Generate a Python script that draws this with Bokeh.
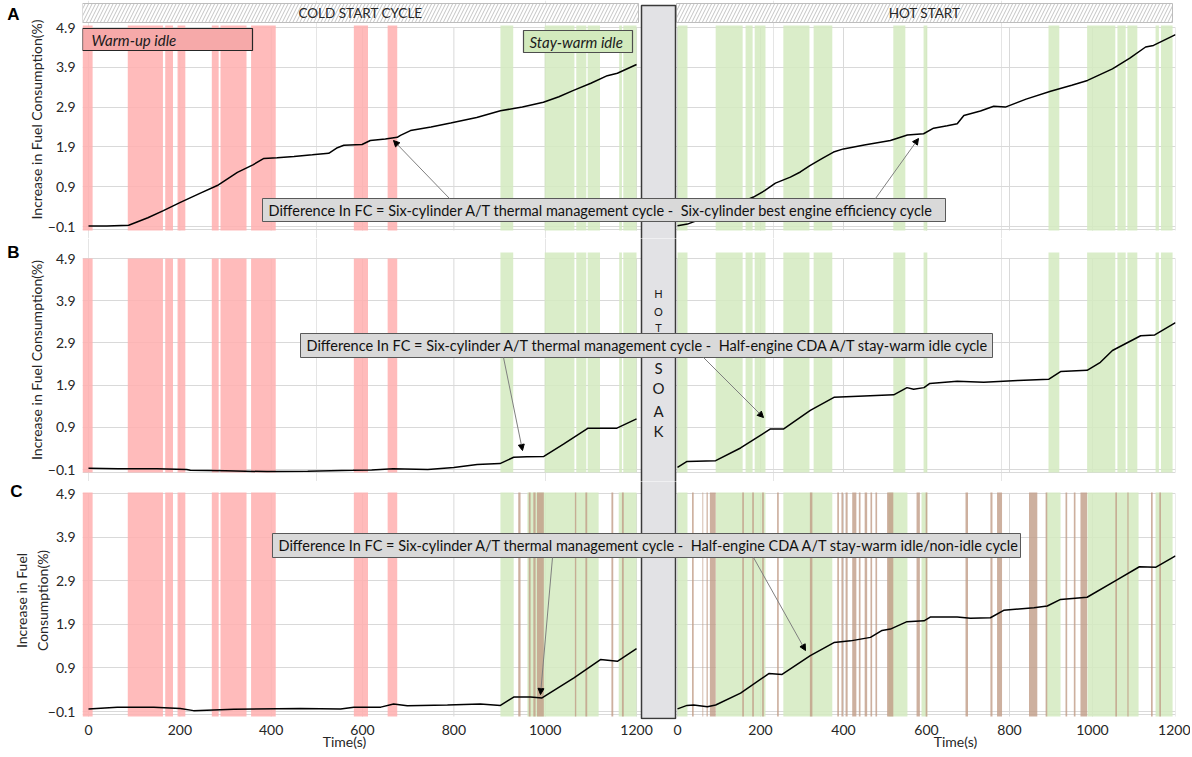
from bokeh.plotting import figure
from bokeh.models import (Range1d, FixedTicker, CustomJSTickFormatter, Arrow,
                          NormalHead, Span, LinearAxis)
from bokeh.layouts import column
from bokeh.embed import file_html
from bokeh.resources import INLINE
from bokeh.core.properties import value

# ---------------- data ----------------
X_TICKS = [0, 200, 400, 600, 800, 1000, 1200]
Y_TICKS = [-0.1, 0.9, 1.9, 2.9, 3.9, 4.9]

# idle periods (s)
WARMUP_IDLE = [(-13, 9), (86, 163), (168, 185), (195, 212), (270, 285),
               (289, 346), (356, 410), (581, 612), (655, 676)]
COLD_STAYWARM = [(902, 930), (999, 1064), (1068, 1090), (1093, 1120),
                 (1162, 1168), (1171, 1200)]
HOT_STAYWARM = [(0, 24), (92, 157), (164, 181), (186, 212), (255, 318),
                (328, 373), (520, 549), (593, 602), (894, 920), (987, 1055),
                (1060, 1080), (1084, 1108), (1152, 1160), (1165, 1193)]
C_COLD_IDLE = [(902, 931), (961, 1117), (1161, 1200)]
C_HOT_IDLE = [(0, 24), (92, 212), (255, 373), (508, 554), (588, 602),
              (889, 923), (988, 1111), (1152, 1193)]
C_COLD_NONIDLE = [(941, 946), (964, 968), (974, 979), (982, 997),
                  (1065, 1068), (1088, 1092), (1145, 1149), (1168, 1172)]
C_HOT_NONIDLE = [(35, 39), (60, 62), (70, 73), (78, 92), (156, 160), (180, 184),
                 (204, 208), (240, 244), (319, 325), (385, 389), (395, 399),
                 (405, 410), (421, 431), (437, 441), (451, 457), (465, 469),
                 (477, 481), (505, 520), (576, 584), (598, 602), (694, 700),
                 (754, 759), (770, 782), (847, 867), (887, 891), (935, 939),
                 (955, 959), (971, 987), (1055, 1059), (1084, 1087),
                 (1141, 1145), (1161, 1165)]

# increase in fuel consumption (%)
A_COLD_T = [0, 40, 88, 130, 164, 200, 245, 282, 326, 360, 384, 413, 450, 490, 526,
            545, 559, 599, 617, 650, 676, 683, 705, 750, 793, 850, 902, 950, 996,
            1030, 1062, 1100, 1136, 1158, 1200]
A_COLD_V = [-0.09, -0.09, -0.07, 0.12, 0.30, 0.50, 0.74, 0.93, 1.26, 1.45, 1.61,
            1.63, 1.66, 1.70, 1.74, 1.88, 1.94, 1.96, 2.06, 2.10, 2.14, 2.19, 2.31,
            2.40, 2.50, 2.64, 2.81, 2.90, 3.02, 3.16, 3.32, 3.50, 3.69, 3.75, 3.97]
A_HOT_T = [0, 24, 60, 100, 140, 183, 210, 236, 272, 296, 319, 350, 376, 400, 450,
           513, 554, 593, 617, 650, 674, 690, 730, 762, 790, 840, 899, 950, 988,
           1048, 1090, 1128, 1147, 1200]
A_HOT_V = [-0.08, -0.04, 0.10, 0.28, 0.44, 0.64, 0.80, 0.99, 1.14, 1.27, 1.43,
           1.62, 1.77, 1.85, 1.95, 2.06, 2.20, 2.23, 2.37, 2.43, 2.48, 2.69, 2.80,
           2.92, 2.90, 3.10, 3.30, 3.45, 3.57, 3.86, 4.13, 4.41, 4.45, 4.72]
B_COLD_T = [0, 65, 150, 215, 223, 300, 391, 480, 579, 620, 667, 743, 800, 851,
            901, 931, 960, 997, 1040, 1094, 1157, 1200]
B_COLD_V = [-0.07, -0.08, -0.08, -0.10, -0.12, -0.13, -0.15, -0.14, -0.12, -0.11,
            -0.08, -0.10, -0.05, 0.02, 0.04, 0.19, 0.20, 0.21, 0.50, 0.88, 0.88, 1.10]
B_HOT_T = [0, 23, 92, 152, 224, 256, 320, 377, 450, 521, 553, 569, 594, 608, 674,
           738, 820, 895, 923, 987, 1019, 1048, 1116, 1150, 1200]
B_HOT_V = [-0.05, 0.09, 0.11, 0.41, 0.86, 0.86, 1.30, 1.61, 1.64, 1.67, 1.84,
           1.80, 1.84, 1.94, 1.99, 1.97, 2.01, 2.04, 2.22, 2.25, 2.44, 2.72, 3.07,
           3.09, 3.38]
C_COLD_T = [0, 63, 143, 201, 230, 318, 464, 552, 581, 640, 668, 698, 786, 858,
            902, 931, 968, 993, 1063, 1121, 1158, 1200]
C_COLD_V = [-0.04, 0.00, 0.00, -0.03, -0.08, -0.05, -0.03, -0.04, 0.00, 0.00,
            0.07, 0.03, 0.05, 0.07, 0.04, 0.23, 0.23, 0.21, 0.67, 1.09, 1.05, 1.34]
C_HOT_T = [0, 23, 39, 72, 92, 152, 220, 252, 320, 377, 417, 465, 493, 513, 553,
           594, 610, 674, 706, 754, 786, 859, 891, 923, 987, 1059, 1113, 1153, 1200]
C_HOT_V = [-0.04, 0.04, 0.05, 0.01, 0.05, 0.32, 0.77, 0.75, 1.18, 1.48, 1.52,
           1.60, 1.76, 1.79, 1.96, 1.98, 2.07, 2.07, 2.04, 2.05, 2.22, 2.28, 2.32,
           2.47, 2.52, 2.92, 3.22, 3.21, 3.47]

CYCLE_TITLES = ["COLD START CYCLE", "HOT START"]
Y_LABEL = "Increase in Fuel Consumption(%)"
Y_LABEL_C = "Increase in Fuel\nConsumption(%)"
X_LABEL = "Time(s)"
NB = "\u00a0"
NOTE_A = "Difference In FC = Six-cylinder A/T thermal management cycle -" + NB + " Six-cylinder best engine efficiency cycle"
NOTE_B = "Difference In FC = Six-cylinder A/T thermal management cycle -" + NB + " Half-engine CDA A/T stay-warm idle cycle"
NOTE_C = "Difference In FC = Six-cylinder A/T thermal management cycle -" + NB + " Half-engine CDA A/T stay-warm idle/non-idle cycle"
SOAK_LETTERS = ["H", "O", "T", "S", "O", "A", "K"]
PANELS = ["A", "B", "C"]

# ---------------- layout ----------------
FONT = "Lato"
W = 1190
FL = 82           # frame left (canvas px == reference px)
FW = 1093         # frame width
COLD_PPS, COLD_0 = 0.4567, 88.0
HOT_PPS, HOT_0 = 0.415, 677.0

cold_start = -(COLD_0 - FL) / COLD_PPS
cold_end = cold_start + FW / COLD_PPS
hot_start = -(HOT_0 - FL) / HOT_PPS
hot_end = hot_start + FW / HOT_PPS
cold_range = Range1d(cold_start, cold_end)
hot_range = Range1d(hot_start, hot_end)


def cx(px):
    return (px - COLD_0) / COLD_PPS


def hx(px):
    return (px - HOT_0) / HOT_PPS


def cold_of_hot(t):
    return cold_start + (t - hot_start) * (cold_end - cold_start) / (hot_end - hot_start)


ROWS = {
    "A": dict(h=238, ppu=39.8, ym1=226, top=0, bot=238, bb=0),
    "B": dict(h=243, ppu=42.2, ym1=469, top=238, bot=481, bb=0),
    "C": dict(h=274, ppu=43.6, ym1=711, top=481, bot=719, bb=36),
}


def yv(r, py):
    R = ROWS[r]
    return -0.1 + (R["ym1"] - py) / R["ppu"]


GRID = "#D9D9D9"
PINK = "#FFAFAF"
GREEN = "#D3EABF"
BROWN = "#C19C87"
TXT = "#262626"


def hide_ticks(ax):
    ax.axis_line_color = None
    ax.major_tick_line_color = None
    ax.minor_tick_line_color = None
    ax.major_tick_out = 0
    ax.major_tick_in = 0
    ax.minor_tick_out = 0
    ax.minor_tick_in = 0


def make_fig(r, show_x, letter, letter_px):
    R = ROWS[r]
    yr = Range1d(yv(r, R["bot"]), yv(r, R["top"]))
    p = figure(width=W, height=R["h"], x_range=cold_range, y_range=yr,
               output_backend="svg", toolbar_location=None,
               x_axis_location="below" if show_x else None,
               min_border_left=FL, min_border_right=W - FL - FW,
               min_border_top=0, min_border_bottom=R["bb"])
    p.extra_x_ranges = {"hot": hot_range}
    p.outline_line_color = None
    p.background_fill_color = "white"
    p.border_fill_color = "white"
    p.ygrid.ticker = FixedTicker(ticks=Y_TICKS)
    p.ygrid.grid_line_color = GRID
    ya = p.yaxis[0]
    ya.ticker = FixedTicker(ticks=Y_TICKS)
    hide_ticks(ya)
    ya.major_label_standoff = 7
    ya.major_label_text_font = FONT
    ya.major_label_text_font_size = "14px"
    ya.major_label_text_color = TXT
    ya.axis_label = Y_LABEL_C if r == "C" else Y_LABEL
    ya.axis_label_text_font = FONT
    ya.axis_label_text_font_size = "14px"
    ya.axis_label_text_font_style = "normal"
    ya.axis_label_text_color = TXT
    ya.axis_label_standoff = -6 if r == "C" else 0
    # outer left axis whose single tick label is the panel letter
    la = LinearAxis(ticker=FixedTicker(ticks=[yv(r, letter_px)]),
                    formatter=CustomJSTickFormatter(args=dict(lab=letter),
                                                    code="return lab;"),
                    major_label_standoff=-12 if r == "C" else 5,
                    major_label_text_font="Liberation Sans",
                    major_label_text_font_size="17px",
                    major_label_text_font_style="bold",
                    major_label_text_color="black")
    hide_ticks(la)
    p.add_layout(la, "left")
    if show_x:
        xa = p.xaxis[0]
        hot_ticks = [cold_of_hot(t) for t in X_TICKS]
        xa.ticker = FixedTicker(ticks=X_TICKS + hot_ticks)
        xa.formatter = CustomJSTickFormatter(
            args=dict(hs=hot_start, cs=cold_start, hspan=hot_end - hot_start,
                      cspan=cold_end - cold_start),
            code="""
            if (tick <= 1250) { return tick.toFixed(0); }
            const h = hs + (tick - cs) * hspan / cspan;
            return Math.round(h).toFixed(0);
            """)
        hide_ticks(xa)
        xa.major_label_standoff = 5
        xa.major_label_text_font = FONT
        xa.major_label_text_font_size = "14px"
        xa.major_label_text_color = TXT
        # second axis carrying the two "Time(s)" titles
        ta = LinearAxis(
            ticker=FixedTicker(ticks=[cx(344), cold_of_hot(hx(955))]),
            formatter=CustomJSTickFormatter(args=dict(lab=X_LABEL), code="return lab;"),
            major_label_standoff=-5,
            major_label_text_font=FONT, major_label_text_font_size="14px",
            major_label_text_color=TXT)
        hide_ticks(ta)
        p.add_layout(ta, "below")
        p.xgrid.visible = False
    return p


def bars(p, spans, bottom, top, color, alpha=0.85, hot=False):
    kw = dict(x_range_name="hot") if hot else {}
    p.quad(left=[a for a, b in spans], right=[b for a, b in spans],
           bottom=bottom, top=top, fill_color=color, fill_alpha=alpha,
           line_color=None, **kw)


def vgrid(p, ybot):
    n = len(X_TICKS)
    p.segment(x0=X_TICKS, x1=X_TICKS, y0=[ybot] * n, y1=[4.9] * n,
              line_color=GRID, line_width=1)
    p.segment(x0=X_TICKS, x1=X_TICKS, y0=[ybot] * n, y1=[4.9] * n,
              line_color=GRID, line_width=1, x_range_name="hot")


def soak_box(p, bottom, top):
    p.quad(left=cx(641), right=cx(675), bottom=bottom, top=top,
           fill_color="#E2E2E5", line_color="#3A3A3A", line_width=1.5)


def note(p, r, text, x0px, x1px, y0px, y1px):
    p.quad(left=cx(x0px), right=cx(x1px), bottom=yv(r, y1px), top=yv(r, y0px),
           fill_color="#D9D9D9", line_color="#595959", line_width=1)
    p.text(x=[cx(x0px + 6)], y=[yv(r, (y0px + y1px) / 2)], text=[text],
           text_font=value(FONT), text_font_size="14.5px", text_color="#111111",
           text_baseline="middle", text_align="left")


def arrow(p, xs, ys, xe, ye, hot=False):
    kw = dict(x_range_name="hot") if hot else {}
    p.add_layout(Arrow(end=NormalHead(size=6, fill_color="black", line_color="black"),
                       x_start=xs, y_start=ys, x_end=xe, y_end=ye,
                       line_color="#7F7F7F", line_width=1, **kw))


LW = 1.5
# ---------- Row A ----------
pA = make_fig("A", False, PANELS[0], 14)
bA, tA = yv("A", 230), yv("A", 25)
vgrid(pA, bA)
bars(pA, WARMUP_IDLE, bA, tA, PINK)
bars(pA, COLD_STAYWARM, bA, tA, GREEN)
bars(pA, HOT_STAYWARM, bA, tA, GREEN, hot=True)
pA.line(A_COLD_T, A_COLD_V, line_color="black", line_width=LW)
pA.line(A_HOT_T, A_HOT_V, line_color="black", line_width=LW, x_range_name="hot")
hb, ht = yv("A", 22), yv("A", 3)
pA.quad(left=cold_start, right=cx(638), bottom=hb, top=ht, fill_color="white",
        hatch_pattern="/", hatch_color="#C4C4C4", hatch_scale=7, hatch_weight=1,
        line_color="#BDBDBD")
pA.quad(left=hx(676), right=hx(1172), bottom=hb, top=ht, fill_color="white",
        hatch_pattern="/", hatch_color="#C4C4C4", hatch_scale=7, hatch_weight=1,
        line_color="#BDBDBD", x_range_name="hot")
pA.text(x=[cx(360)], y=[(hb + ht) / 2], text=[CYCLE_TITLES[0]], text_font=value(FONT),
        text_font_size="13.5px", text_color=TXT, text_align="center", text_baseline="middle")
pA.text(x=[hx(924)], y=[(hb + ht) / 2], text=[CYCLE_TITLES[1]], text_font=value(FONT),
        text_font_size="13.5px", text_color=TXT, text_align="center", text_baseline="middle",
        x_range_name="hot")
soak_box(pA, yv("A", 260), yv("A", 5))
pA.quad(left=cold_start, right=cx(252), bottom=yv("A", 50), top=yv("A", 28),
        fill_color="#F6A9A9", line_color="#262626", line_width=1.2)
pA.text(x=[cx(91)], y=[yv("A", 39.5)], text=["Warm-up idle"], text_font=value(FONT),
        text_font_size="15px", text_font_style="italic", text_color="#1a1a1a",
        text_baseline="middle")
pA.quad(left=cx(523), right=cx(632), bottom=yv("A", 52), top=yv("A", 30),
        fill_color="#D2EABD", line_color="#4D4D4D", line_width=1.2)
pA.text(x=[cx(529)], y=[yv("A", 41.5)], text=["Stay-warm idle"], text_font=value(FONT),
        text_font_size="15px", text_font_style="italic", text_color="#1a1a1a",
        text_baseline="middle")
note(pA, "A", NOTE_A, 262, 945, 198, 221)
arrow(pA, cx(449), yv("A", 198), cx(393), yv("A", 140))
arrow(pA, hx(875), yv("A", 198), hx(918), yv("A", 138), hot=True)

# ---------- Row B ----------
pB = make_fig("B", False, PANELS[1], 252)
bB = yv("B", 472)
vgrid(pB, bB)
bars(pB, WARMUP_IDLE, bB, 4.9, PINK)
bars(pB, COLD_STAYWARM, bB, yv("B", 252), GREEN)
bars(pB, HOT_STAYWARM, bB, yv("B", 252), GREEN, hot=True)
pB.line(B_COLD_T, B_COLD_V, line_color="black", line_width=LW)
pB.line(B_HOT_T, B_HOT_V, line_color="black", line_width=LW, x_range_name="hot")
soak_box(pB, yv("B", 500), yv("B", 200))
soak_y = [yv("B", v) for v in (293, 311, 327, 367, 387, 410, 430)]
pB.text(x=[cx(658)] * 3, y=soak_y[:3], text=SOAK_LETTERS[:3], text_font=value(FONT),
        text_font_size="11px", text_color="#1a1a1a", text_align="center",
        text_baseline="middle")
pB.text(x=[cx(658)] * 4, y=soak_y[3:], text=SOAK_LETTERS[3:], text_font=value(FONT),
        text_font_size="15px", text_color="#1a1a1a", text_align="center",
        text_baseline="middle")
note(pB, "B", NOTE_B, 300, 992, 333, 357)
arrow(pB, cx(503), yv("B", 357), cx(522), yv("B", 450))
arrow(pB, hx(703), yv("B", 357), hx(763), yv("B", 417), hot=True)

# ---------- Row C ----------
pC = make_fig("C", True, PANELS[2], 490)
bC, tC = yv("C", 716), yv("C", 492)
vgrid(pC, bC)
bars(pC, WARMUP_IDLE, bC, tC, PINK)
bars(pC, C_COLD_IDLE, bC, tC, GREEN)
bars(pC, C_HOT_IDLE, bC, tC, GREEN, hot=True)
bars(pC, C_COLD_NONIDLE, bC, tC, BROWN, alpha=0.8)
bars(pC, C_HOT_NONIDLE, bC, tC, BROWN, alpha=0.8, hot=True)
pC.line(C_COLD_T, C_COLD_V, line_color="black", line_width=LW)
pC.line(C_HOT_T, C_HOT_V, line_color="black", line_width=LW, x_range_name="hot")
soak_box(pC, yv("C", 718), yv("C", 440))
note(pC, "C", NOTE_C, 272, 1020, 533, 557)
arrow(pC, cx(552), yv("C", 557), cx(540), yv("C", 694))
arrow(pC, hx(753), yv("C", 557), hx(805), yv("C", 650), hot=True)

for p, r in ((pA, "A"), (pB, "B"), (pC, "C")):
    p.add_layout(Span(location=yv(r, ROWS[r]["ym1"] + 3), dimension="width",
                      line_color=GRID, line_width=1, level="underlay"))

layout = column(pA, pB, pC, spacing=0)
open("out.html", "w").write(file_html(layout, INLINE))
